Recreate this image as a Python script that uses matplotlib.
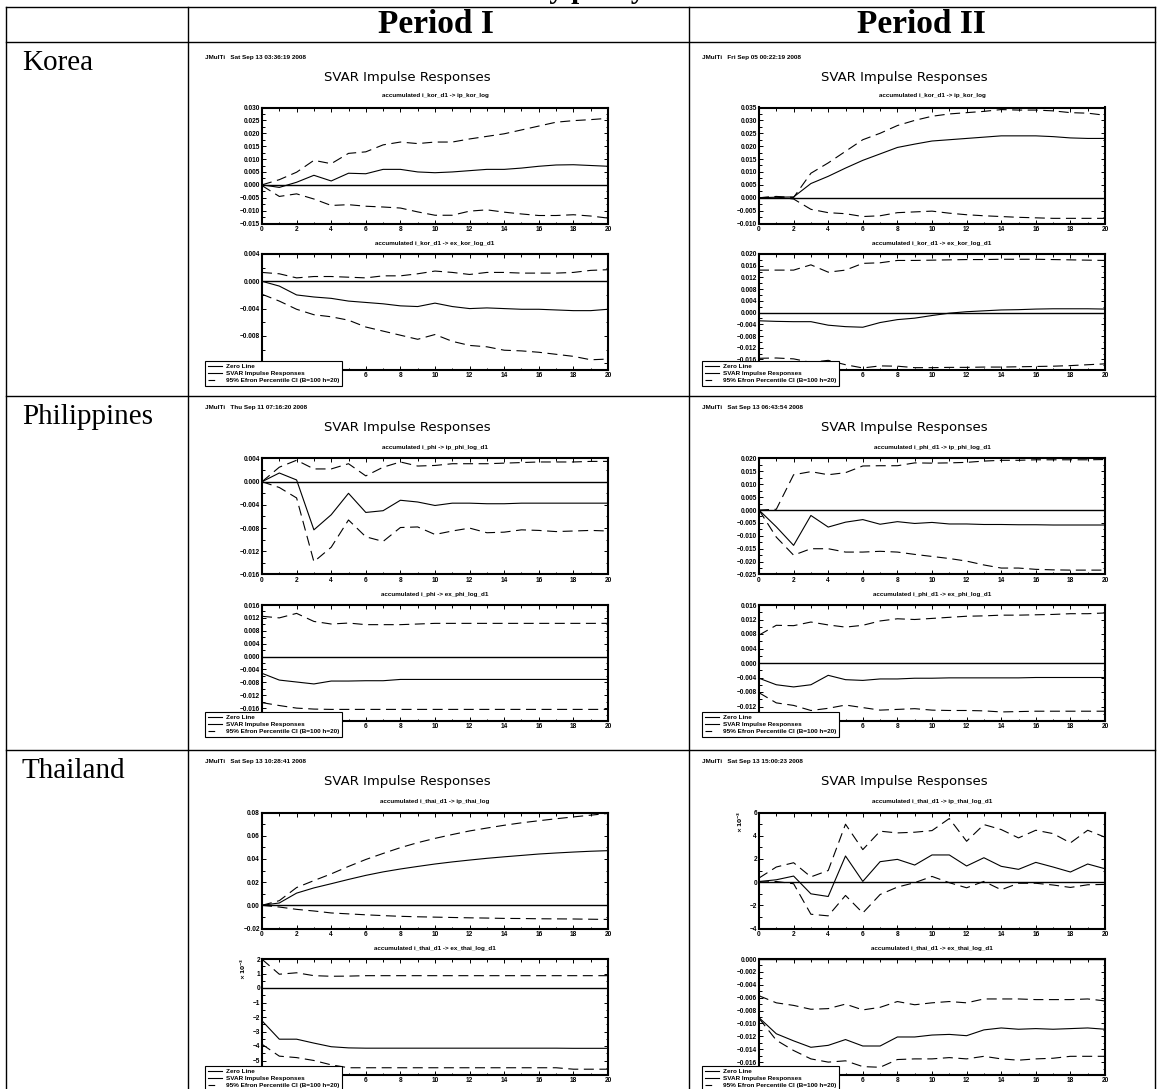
import numpy as np
import matplotlib
matplotlib.use('Agg')
import matplotlib.pyplot as plt
from matplotlib.lines import Line2D
from matplotlib.ticker import MultipleLocator, FuncFormatter

W, H = 1158, 1089
plt.rcParams['font.family'] = ['Liberation Sans', 'DejaVu Sans']
plt.rcParams['font.weight'] = 'bold'

horizon = np.arange(21)

countries = ['Korea', 'Philippines', 'Thailand']
periods = ['Period I', 'Period II']
stamps = [['JMulTi   Sat Sep 13 03:36:19 2008', 'JMulTi   Fri Sep 05 00:22:19 2008'],
          ['JMulTi   Thu Sep 11 07:16:20 2008', 'JMulTi   Sat Sep 13 06:43:54 2008'],
          ['JMulTi   Sat Sep 13 10:28:41 2008', 'JMulTi   Sat Sep 13 15:00:23 2008']]
titles_ip = [['accumulated i_kor_d1 -> ip_kor_log', 'accumulated i_kor_d1 -> ip_kor_log'],
             ['accumulated i_phi -> ip_phi_log_d1', 'accumulated i_phi_d1 -> ip_phi_log_d1'],
             ['accumulated i_thai_d1 -> ip_thai_log', 'accumulated i_thai_d1 -> ip_thai_log_d1']]
titles_ex = [['accumulated i_kor_d1 -> ex_kor_log_d1', 'accumulated i_kor_d1 -> ex_kor_log_d1'],
             ['accumulated i_phi -> ex_phi_log_d1', 'accumulated i_phi_d1 -> ex_phi_log_d1'],
             ['accumulated i_thai_d1 -> ex_thai_log_d1', 'accumulated i_thai_d1 -> ex_thai_log_d1']]
legend_labels = ['Zero Line', 'SVAR Impulse Responses', '95% Efron Percentile CI (B=100 h=20)']

# Korea, period I
kor1_ip_resp = [0.0, -0.001, 0.001, 0.0037, 0.0015, 0.0045, 0.0043, 0.006, 0.006, 0.005, 0.0047,
                0.005, 0.0055, 0.006, 0.006, 0.0065, 0.0072, 0.0077, 0.0078, 0.0075, 0.0072]
kor1_ip_hi = [0.0, 0.002, 0.0049, 0.0095, 0.0082, 0.0122, 0.0128, 0.0155, 0.0166, 0.016, 0.0166,
              0.0166, 0.0178, 0.0188, 0.0198, 0.0213, 0.0228, 0.0243, 0.0249, 0.0253, 0.0258]
kor1_ip_lo = [-0.0003, -0.0045, -0.0035, -0.0055, -0.008, -0.0077, -0.0083, -0.0086, -0.009, -0.0105, -0.0118,
              -0.0118, -0.0102, -0.0097, -0.0106, -0.0113, -0.0119, -0.0119, -0.0116, -0.0121, -0.0129]
kor1_ex_resp = [0.0, -0.0007, -0.002, -0.0023, -0.0025, -0.0029, -0.0031, -0.0033, -0.0036, -0.0037, -0.0032,
                -0.0037, -0.004, -0.0039, -0.004, -0.0041, -0.0041, -0.0042, -0.0043, -0.0043, -0.0041]
kor1_ex_hi = [0.0013, 0.0011, 0.0005, 0.0007, 0.0007, 0.0006, 0.0005, 0.0008, 0.0008, 0.0011, 0.0015,
              0.0013, 0.001, 0.0013, 0.0013, 0.0012, 0.0012, 0.0012, 0.0013, 0.0016, 0.0017]
kor1_ex_lo = [-0.0019, -0.0029, -0.0041, -0.0049, -0.0052, -0.0057, -0.0067, -0.0073, -0.0079, -0.0085, -0.0078,
              -0.0088, -0.0094, -0.0096, -0.0101, -0.0102, -0.0104, -0.0107, -0.011, -0.0115, -0.0114]

# Korea, period II
kor2_ip_resp = [0.0, 0.0002, 0.0003, 0.0055, 0.0083, 0.0115, 0.0145, 0.017, 0.0195, 0.0208, 0.022,
                0.0225, 0.023, 0.0235, 0.024, 0.024, 0.024, 0.0237, 0.0232, 0.023, 0.023]
kor2_ip_hi = [0.0, 0.0005, 0.0001, 0.0095, 0.0135, 0.018, 0.0225, 0.025, 0.028, 0.030, 0.0316,
              0.0325, 0.033, 0.0335, 0.0342, 0.034, 0.034, 0.0337, 0.033, 0.0328, 0.032]
kor2_ip_lo = [0.0, 0.0003, -0.0005, -0.0045, -0.0058, -0.0062, -0.0073, -0.007, -0.0058, -0.0055, -0.0052,
              -0.006, -0.0066, -0.007, -0.0073, -0.0076, -0.0078, -0.008, -0.008, -0.008, -0.008]
kor2_ex_resp = [-0.0028, -0.003, -0.0031, -0.0031, -0.0043, -0.0048, -0.005, -0.0034, -0.0024, -0.0019, -0.001,
                -0.0002, 0.0003, 0.0006, 0.0009, 0.001, 0.0012, 0.0013, 0.0013, 0.0013, 0.0012]
kor2_ex_hi = [0.0145, 0.0145, 0.0145, 0.0163, 0.0138, 0.0145, 0.0168, 0.017, 0.0178, 0.0178, 0.0179,
              0.018, 0.0181, 0.0181, 0.0182, 0.0182, 0.0182, 0.0181, 0.018, 0.0179, 0.0178]
kor2_ex_lo = [-0.0156, -0.0155, -0.0158, -0.017, -0.0163, -0.0178, -0.0189, -0.0182, -0.0183, -0.0188, -0.0188,
              -0.0187, -0.0187, -0.0186, -0.0186, -0.0185, -0.0184, -0.0183, -0.0181, -0.0178, -0.0175]

# Philippines, period I
phi1_ip_resp = [0.0, 0.0015, 0.0003, -0.0083, -0.0057, -0.002, -0.0053, -0.005, -0.0032, -0.0035, -0.0041,
                -0.0037, -0.0037, -0.0038, -0.0038, -0.0037, -0.0037, -0.0037, -0.0037, -0.0037, -0.0037]
phi1_ip_hi = [0.0, 0.0025, 0.0037, 0.0022, 0.0022, 0.0031, 0.001, 0.0025, 0.0034, 0.0027, 0.0028,
              0.0031, 0.0031, 0.0031, 0.0032, 0.0033, 0.0034, 0.0034, 0.0034, 0.0035, 0.0035]
phi1_ip_lo = [0.0, -0.001, -0.0028, -0.0138, -0.0113, -0.0066, -0.0095, -0.0103, -0.0079, -0.0078, -0.0091,
              -0.0085, -0.008, -0.0088, -0.0087, -0.0083, -0.0084, -0.0086, -0.0085, -0.0084, -0.0085]
phi1_ex_resp = [-0.0052, -0.0073, -0.0079, -0.0085, -0.0076, -0.0076, -0.0075, -0.0075, -0.0071, -0.0071, -0.0071,
                -0.0071, -0.0071, -0.0071, -0.0071, -0.0071, -0.0071, -0.0071, -0.0071, -0.0071, -0.0071]
phi1_ex_hi = [0.0125, 0.012, 0.0134, 0.0109, 0.0101, 0.0104, 0.0099, 0.0099, 0.0099, 0.0101, 0.0103,
              0.0103, 0.0103, 0.0103, 0.0103, 0.0103, 0.0103, 0.0103, 0.0103, 0.0103, 0.0103]
phi1_ex_lo = [-0.0143, -0.0152, -0.016, -0.0163, -0.0164, -0.0164, -0.0164, -0.0164, -0.0164, -0.0164, -0.0164,
              -0.0164, -0.0164, -0.0164, -0.0164, -0.0164, -0.0164, -0.0164, -0.0164, -0.0164, -0.0164]

# Philippines, period II
phi2_ip_resp = [0.0, -0.0065, -0.0137, -0.0021, -0.0066, -0.0047, -0.0037, -0.0055, -0.0045, -0.0052, -0.0048,
                -0.0054, -0.0054, -0.0056, -0.0056, -0.0057, -0.0057, -0.0058, -0.0058, -0.0058, -0.0058]
phi2_ip_hi = [0.0, 0.0003, 0.0137, 0.0149, 0.0137, 0.0145, 0.0171, 0.0172, 0.0172, 0.0183, 0.0182,
              0.0183, 0.0185, 0.019, 0.0193, 0.0193, 0.0195, 0.0195, 0.0195, 0.0195, 0.0196]
phi2_ip_lo = [0.0, -0.0105, -0.0175, -0.015, -0.015, -0.0163, -0.0163, -0.016, -0.0163, -0.0172, -0.018,
              -0.0188, -0.0198, -0.0213, -0.0225, -0.0225, -0.023, -0.0232, -0.0233, -0.0233, -0.0233]
phi2_ex_resp = [-0.0042, -0.006, -0.0066, -0.006, -0.0034, -0.0046, -0.0048, -0.0044, -0.0044, -0.0042, -0.0042,
                -0.0041, -0.0041, -0.0041, -0.0041, -0.0041, -0.004, -0.004, -0.004, -0.004, -0.004]
phi2_ex_hi = [0.0077, 0.0104, 0.0103, 0.0113, 0.0105, 0.0099, 0.0104, 0.0116, 0.0122, 0.012, 0.0123,
              0.0126, 0.0129, 0.013, 0.0132, 0.0132, 0.0133, 0.0134, 0.0136, 0.0136, 0.0138]
phi2_ex_lo = [-0.0082, -0.011, -0.0117, -0.0131, -0.0125, -0.0116, -0.0123, -0.013, -0.0128, -0.0126, -0.013,
              -0.0131, -0.0131, -0.0132, -0.0135, -0.0134, -0.0133, -0.0133, -0.0133, -0.0133, -0.0133]

# Thailand, period I
thai1_ip_resp = [0.0, 0.002, 0.0105, 0.015, 0.0186, 0.0223, 0.0258, 0.0288, 0.0313, 0.0335, 0.0356,
                 0.0374, 0.039, 0.0405, 0.0418, 0.043, 0.0442, 0.0451, 0.0459, 0.0466, 0.0471]
thai1_ip_hi = [0.0, 0.004, 0.0153, 0.0213, 0.0271, 0.0335, 0.0395, 0.0447, 0.0497, 0.054, 0.0577,
               0.061, 0.0641, 0.0666, 0.069, 0.0711, 0.0729, 0.0746, 0.0762, 0.0777, 0.0792]
thai1_ip_lo = [0.0, -0.0015, -0.0035, -0.0049, -0.0066, -0.0074, -0.0082, -0.0089, -0.0095, -0.0099, -0.0102,
               -0.0105, -0.0108, -0.011, -0.0113, -0.0114, -0.0116, -0.0117, -0.0118, -0.012, -0.0122]
thai1_ex_resp = [-0.00226, -0.00353, -0.00353, -0.0038, -0.00405, -0.00413, -0.00415, -0.00415, -0.00415,
                 -0.00415, -0.00415, -0.00415, -0.00415, -0.00415, -0.00415, -0.00415, -0.00415, -0.00415,
                 -0.00416, -0.00416, -0.00416]
thai1_ex_hi = [0.00198, 0.00095, 0.00105, 0.00085, 0.00081, 0.00082, 0.00085, 0.00085, 0.00085, 0.00085,
               0.00085, 0.00085, 0.00085, 0.00085, 0.00085, 0.00085, 0.00085, 0.00085, 0.00085, 0.00085, 0.00085]
thai1_ex_lo = [-0.00388, -0.0047, -0.0048, -0.005, -0.0053, -0.0055, -0.0055, -0.0055, -0.0055, -0.0055,
               -0.0055, -0.0055, -0.0055, -0.0055, -0.0055, -0.0055, -0.0055, -0.0055, -0.0056, -0.0056, -0.0056]

# Thailand, period II
thai2_ip_resp = [0.00005, 0.0002, 0.00052, -0.00101, -0.00124, 0.00225, 0.00006, 0.00176, 0.00196, 0.00147,
                 0.00234, 0.00234, 0.00139, 0.0021, 0.00136, 0.0011, 0.0017, 0.0013, 0.00087, 0.00156, 0.00115]
thai2_ip_hi = [0.00035, 0.0013, 0.00167, 0.00045, 0.001, 0.00499, 0.0028, 0.00439, 0.00424, 0.0043,
               0.00444, 0.00548, 0.00352, 0.00496, 0.00453, 0.00381, 0.00447, 0.00418, 0.00338, 0.00447, 0.00387]
thai2_ip_lo = [0.0, 0.00005, -0.00014, -0.00277, -0.00291, -0.00115, -0.00266, -0.00107, -0.00043, -0.00005,
               0.00049, -0.00005, -0.00049, 0.00006, -0.00066, -0.0001, -0.0001, -0.00025, -0.00046, -0.00023, -0.0002]
thai2_ex_resp = [-0.0091, -0.0116, -0.0127, -0.0137, -0.0134, -0.0125, -0.0135, -0.0135, -0.0121, -0.0121, -0.0118,
                 -0.0117, -0.0119, -0.011, -0.0107, -0.0109, -0.0108, -0.0109, -0.0108, -0.0107, -0.0109]
thai2_ex_hi = [-0.0057, -0.0068, -0.0072, -0.0078, -0.0077, -0.007, -0.0079, -0.0075, -0.0066, -0.0071, -0.0068,
               -0.0066, -0.0068, -0.0062, -0.0062, -0.0062, -0.0063, -0.0063, -0.0063, -0.0062, -0.0065]
thai2_ex_lo = [-0.0092, -0.0126, -0.0142, -0.0155, -0.016, -0.0158, -0.0167, -0.0168, -0.0156, -0.0155, -0.0155,
               -0.0153, -0.0155, -0.0151, -0.0155, -0.0157, -0.0155, -0.0154, -0.0151, -0.0151, -0.0151]

ip_series = [[(kor1_ip_resp, kor1_ip_hi, kor1_ip_lo), (kor2_ip_resp, kor2_ip_hi, kor2_ip_lo)],
             [(phi1_ip_resp, phi1_ip_hi, phi1_ip_lo), (phi2_ip_resp, phi2_ip_hi, phi2_ip_lo)],
             [(thai1_ip_resp, thai1_ip_hi, thai1_ip_lo), (thai2_ip_resp, thai2_ip_hi, thai2_ip_lo)]]
ex_series = [[(kor1_ex_resp, kor1_ex_hi, kor1_ex_lo), (kor2_ex_resp, kor2_ex_hi, kor2_ex_lo)],
             [(phi1_ex_resp, phi1_ex_hi, phi1_ex_lo), (phi2_ex_resp, phi2_ex_hi, phi2_ex_lo)],
             [(thai1_ex_resp, thai1_ex_hi, thai1_ex_lo), (thai2_ex_resp, thai2_ex_hi, thai2_ex_lo)]]

# axis setup: (ylim, tick step, format, scale)
ip_axis = [[((-0.015, 0.030), 0.005, '%.3f', None), ((-0.010, 0.035), 0.005, '%.3f', None)],
           [((-0.016, 0.004), 0.004, '%.3f', None), ((-0.025, 0.020), 0.005, '%.3f', None)],
           [((-0.02, 0.08), 0.02, '%.2f', None), ((-0.004, 0.006), 0.002, '%.3f', 1e-3)]]
ex_axis = [[((-0.0130, 0.004), 0.004, '%.3f', None), ((-0.0196, 0.020), 0.004, '%.3f', None)],
           [((-0.020, 0.016), 0.004, '%.3f', None), ((-0.016, 0.016), 0.004, '%.3f', None)],
           [((-0.006, 0.002), 0.001, '%.3f', 1e-3), ((-0.018, 0.000), 0.002, '%.3f', None)]]

ROW_LINES = [42, 396, 750]
ROW_TOP = [45, 396, 750]
AX_LEFT = [262, 759]
AX_W = 346

fig = plt.figure(figsize=(W / 100, H / 100), dpi=100)


def fx(x):
    return x / W


def fy(y):
    return 1 - y / H


def px_axes(left, top, right, bottom):
    return fig.add_axes([fx(left), fy(bottom), (right - left) / W, (bottom - top) / H])


def make_fmt(fmt, scale, ylim, hide_frac):
    # labels at the foot of a lower panel sit under the legend box
    lo, hi = ylim

    def f(v, pos):
        if (v - lo) / (hi - lo) < hide_frac:
            return ''
        if abs(v) < 1e-12:
            v = 0.0
        if scale:
            s = '%d' % round(v / scale)
        else:
            s = fmt % v
        return s.replace('-', '\u2212')
    return FuncFormatter(f)


def x_fmt(hide_below):
    def f(v, pos):
        if v < hide_below:
            return ''
        return '%d' % round(v)
    return FuncFormatter(f)


def draw_ir(ax, series, setup, lower=False):
    resp, hi, lo = series
    ylim, step, fmt, scale = setup
    ax.axhline(0, color='k', lw=1.0)
    ax.plot(horizon, resp, color='k', lw=0.8)
    ax.plot(horizon, hi, color='k', lw=0.8, ls=(0, (9, 5)))
    ax.plot(horizon, lo, color='k', lw=0.8, ls=(0, (9, 5)))
    ax.set_xlim(0, 20)
    ax.set_ylim(*ylim)
    ax.xaxis.set_major_locator(MultipleLocator(2))
    ax.xaxis.set_minor_locator(MultipleLocator(1))
    ax.xaxis.set_major_formatter(x_fmt(5 if lower else -1))
    ax.yaxis.set_major_locator(MultipleLocator(step))
    ax.yaxis.set_minor_locator(MultipleLocator(step / 2))
    ax.yaxis.set_major_formatter(make_fmt(fmt, scale, ylim, 0.07 if lower else -1))
    ax.tick_params(which='both', direction='in', top=True, right=True, width=0.7,
                   labelsize=4.7, pad=1.5)
    ax.tick_params(which='major', length=3)
    ax.tick_params(which='minor', length=1.8)
    for sp in ax.spines.values():
        sp.set_linewidth(1.5)
    if scale:
        ax.text(-0.055, 0.92, r'$\times\,10^{-3}$', transform=ax.transAxes, rotation=90,
                ha='center', va='center', fontsize=4.3)


handles = [Line2D([], [], color='k', lw=0.8),
           Line2D([], [], color='k', lw=0.8),
           Line2D([], [], color='k', lw=0.8, ls=(0, (6, 100)))]

for i in range(3):
    r = ROW_TOP[i]
    for j in range(2):
        axl = AX_LEFT[j]
        axr = axl + AX_W
        cx = axl + AX_W / 2
        fig.text(fx(axl - 57), fy(r + 12), stamps[i][j], fontsize=4.6, ha='left', va='center')
        fig.text(fx(axl + 145), fy(r + 32), 'SVAR Impulse Responses', fontsize=9.5,
                 family='DejaVu Sans', weight='normal', ha='center', va='center')
        fig.text(fx(cx), fy(r + 51), titles_ip[i][j], fontsize=4.5, ha='center', va='center')
        ax1 = px_axes(axl, r + 62.5, axr, r + 178.5)
        draw_ir(ax1, ip_series[i][j], ip_axis[i][j])
        fig.text(fx(cx), fy(r + 198.5), titles_ex[i][j], fontsize=4.5, ha='center', va='center')
        ax2 = px_axes(axl, r + 209, axr, r + 325)
        draw_ir(ax2, ex_series[i][j], ex_axis[i][j], lower=True)
        leg = fig.legend(handles, legend_labels, loc='lower left',
                         bbox_to_anchor=(fx(axl - 57), fy(r + 341)),
                         prop=dict(size=4.6, weight='bold'), frameon=True, fancybox=False,
                         edgecolor='black', framealpha=1, borderpad=0.4, handlelength=2.3,
                         handletextpad=0.6, labelspacing=0.25, borderaxespad=0)
        leg.get_frame().set_linewidth(0.8)

# table grid
line_kw = dict(color='k', lw=1.0, transform=fig.transFigure)
for y in [6.7] + ROW_LINES:
    fig.add_artist(Line2D([fx(6), fx(1155)], [fy(y), fy(y)], **line_kw))
for x in [6, 188, 689, 1155]:
    fig.add_artist(Line2D([fx(x), fx(x)], [fy(6.7), fy(1095)], **line_kw))

# header and row labels
fig.text(fx(436), fy(33), periods[0], family='Liberation Serif', weight='bold', fontsize=24,
         ha='center', va='baseline')
fig.text(fx(921), fy(33), periods[1], family='Liberation Serif', weight='bold', fontsize=24,
         ha='center', va='baseline')
for i, name in enumerate(countries):
    fig.text(fx(22), fy(ROW_LINES[i] + 28), name, family='Liberation Serif', weight='normal',
             fontsize=21, ha='left', va='baseline')
# table title, cut off at the top of the page
fig.text(fx(645), fy(-2.5), 'Monetary policy', family='Liberation Serif', weight='bold',
         fontsize=21, ha='right', va='baseline')

fig.savefig('out.png', dpi=100)
